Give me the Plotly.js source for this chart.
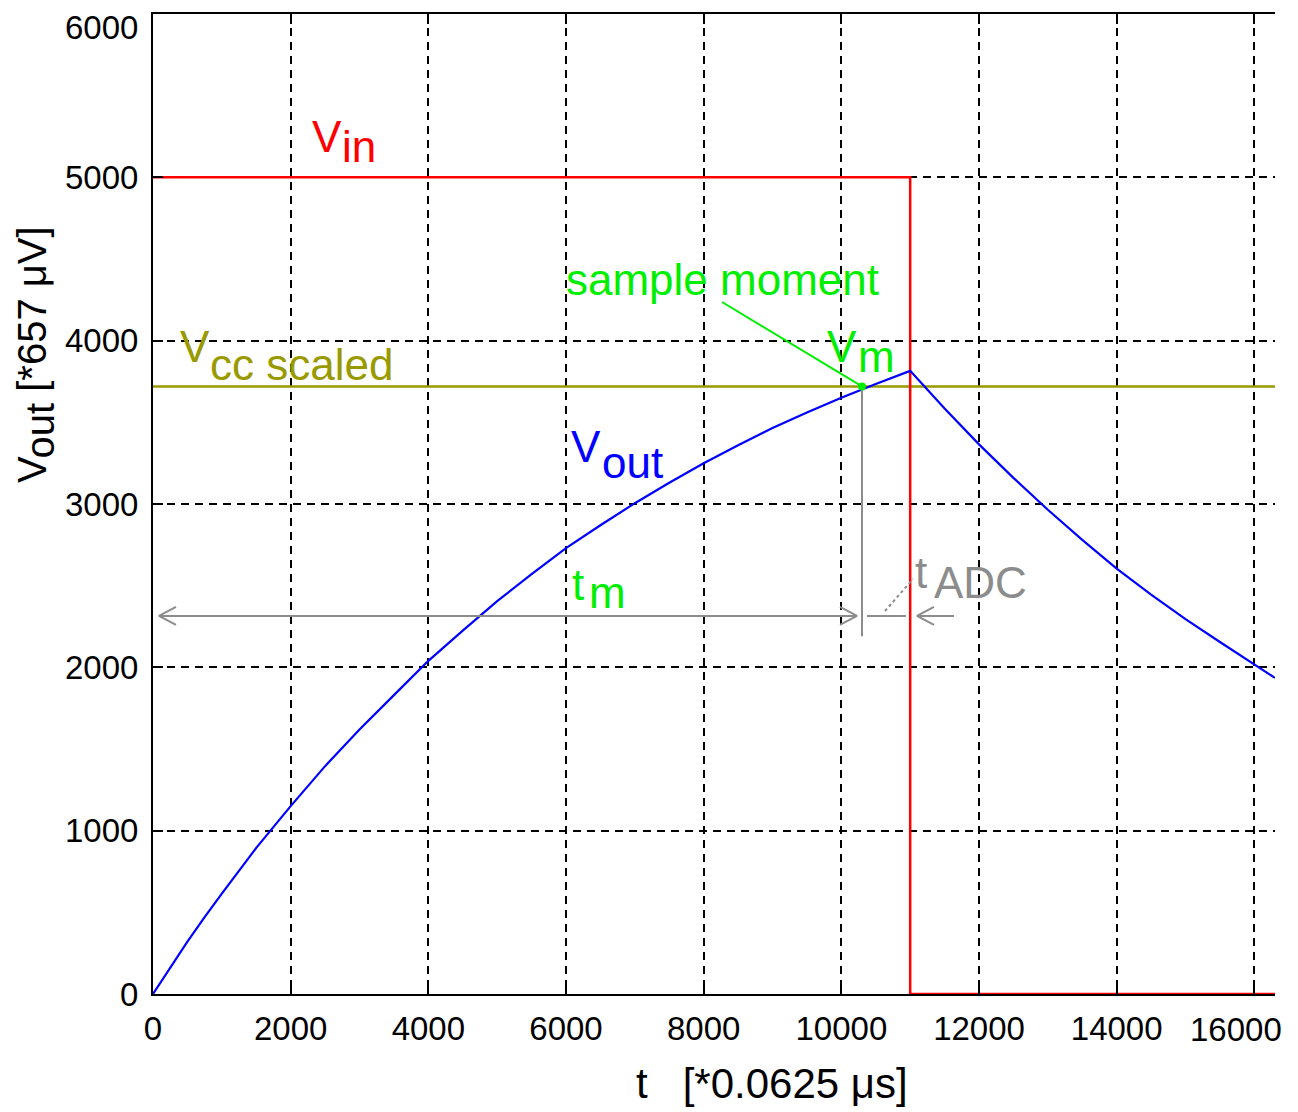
<!DOCTYPE html>
<html>
<head>
<meta charset="utf-8">
<script src="https://cdn.plot.ly/plotly-3.0.1.min.js"></script>
<style>html,body{margin:0;padding:0;background:#fff;}#chart{width:1298px;height:1112px;}</style>
</head>
<body>
<div id="chart"></div>
<script>
// ---- data ----
const tOut = [0,250,500,750,1000,1500,2000,2500,3000,3500,4000,4500,5000,5500,6000,6500,7000,7500,8000,8500,9000,9500,10000,10500,11000,11500,12000,12500,13000,13500,14000,14500,15000,15500,16000,16300];
const vOut = [0,162,320,470,615,895,1150,1395,1620,1830,2040,2225,2405,2570,2730,2870,3005,3130,3250,3360,3465,3560,3650,3735,3815,3585,3365,3160,2965,2780,2605,2445,2295,2155,2020,1935];
const tIn = [0,11000,11000,16300];
const vIn = [5000,5000,0,0];
const tVcc = [0,16300];
const vVcc = [3720,3720];
const tSample = [10300];
const vSample = [3720];
const vMeasure = 2315;      // level of the t_m / t_ADC dimension arrows
const vMeasureLow = 2190;   // lower end of the sample-moment marker line
const xTicks = [0,2000,4000,6000,8000,10000,12000,14000];
const xEdgeTick = [16000];
const yTicks = [0,1000,2000,3000,4000,5000];
const yEdgeTick = [6000];

// ---- geometry helpers (plot area in pixels) ----
const L = 153, R = 1275, T = 14, B = 994;
const XMAX = 16300, YMAX = 6000;
const px2t = px => (px - L) / (R - L) * XMAX;
const py2v = py => (B - py) / (B - T) * YMAX;
const dpx2t = d => d / (R - L) * XMAX;
const dpy2v = d => d / (B - T) * YMAX;

const FONT = 'Liberation Sans, Arial, sans-serif';
const RED = '#ff0000', BLUE = '#0000ff', GREEN = '#00ee00', OLIVE = '#999900', GRAY = '#8c8c8c';

// chevron arrowheads: tip position and direction (+1 = barbs to the right of tip)
function chevrons(list) {
  const xs = [], ys = [];
  const dt = dpx2t(17), dv = dpy2v(9);
  list.forEach(([tip, v, dir]) => {
    xs.push(tip + dir * dt, tip, tip + dir * dt, null);
    ys.push(v + dv, v, v - dv, null);
  });
  return {x: xs, y: ys};
}
const heads = chevrons([[px2t(159), vMeasure, 1], [px2t(857), vMeasure, -1], [px2t(917), vMeasure, 1]]);

const traces = [
  {x: tVcc, y: vVcc, mode: 'lines', line: {color: OLIVE, width: 2.5}, hoverinfo: 'skip'},
  {x: tIn, y: vIn, mode: 'lines', line: {color: RED, width: 2.5}, cliponaxis: false, hoverinfo: 'skip'},
  {x: tOut, y: vOut, mode: 'lines', line: {color: BLUE, width: 2.2}, hoverinfo: 'skip'},
  {x: [tSample[0], tSample[0]], y: [vSample[0], vMeasureLow], mode: 'lines', line: {color: GRAY, width: 2}, hoverinfo: 'skip'},
  {x: [px2t(159), px2t(857)], y: [vMeasure, vMeasure], mode: 'lines', line: {color: GRAY, width: 2}, hoverinfo: 'skip'},
  {x: [px2t(867), px2t(906)], y: [vMeasure, vMeasure], mode: 'lines', line: {color: GRAY, width: 2}, hoverinfo: 'skip'},
  {x: [px2t(917), px2t(954)], y: [vMeasure, vMeasure], mode: 'lines', line: {color: GRAY, width: 2}, hoverinfo: 'skip'},
  {x: heads.x, y: heads.y, mode: 'lines', line: {color: GRAY, width: 2}, connectgaps: false, hoverinfo: 'skip'},
  {x: [px2t(885), px2t(913)], y: [py2v(611), py2v(579)], mode: 'lines', line: {color: GRAY, width: 2, dash: 'dot'}, hoverinfo: 'skip'},
  {x: [px2t(722), tSample[0]], y: [py2v(302), vSample[0]], mode: 'lines', line: {color: GREEN, width: 2}, hoverinfo: 'skip'},
  {x: tSample, y: vSample, mode: 'markers', marker: {color: GREEN, size: 8}, cliponaxis: false, hoverinfo: 'skip'}
];

const S = 44;
function lbl(text, pxLeft, pyBase, color, size) {
  const s = size || S;
  return {x: px2t(pxLeft), y: py2v(pyBase - 0.3465 * s), xref: 'x', yref: 'y',
          text: text, showarrow: false, xanchor: 'left', yanchor: 'middle',
          font: {family: FONT, size: s, color: color}, borderpad: 0};
}
function paperLbl(text, px, py, size, xanchor, angle) {
  return {x: (px - L) / (R - L), y: (B - py) / (B - T), xref: 'paper', yref: 'paper', text: text,
          showarrow: false, xanchor: xanchor || 'center', yanchor: 'middle', textangle: angle || 0,
          font: {family: FONT, size: size, color: '#000'}, borderpad: 0};
}

const annotations = [
  lbl('V', 311, 152, RED), lbl('in', 341, 162, RED),
  lbl('V', 179, 362, OLIVE), lbl('cc scaled', 209, 380, OLIVE),
  lbl('sample moment', 565, 295, GREEN),
  lbl('V', 826, 362, GREEN), lbl('m', 857, 372, GREEN),
  lbl('V', 570, 462, BLUE), lbl('out', 601, 478, BLUE),
  lbl('t', 571, 600, GREEN), lbl('m', 588, 608, GREEN),
  lbl('t', 914, 588, GRAY), lbl('ADC', 933, 598, GRAY),
  // edge tick labels, nudged inside the figure as in the reference
  paperLbl(String(yEdgeTick[0]), 139, 27, 33, 'right'),
  paperLbl(String(xEdgeTick[0]), 1236, 1029, 33, 'center'),
  // axis titles
  paperLbl('t   [*0.0625 μs]', 772, 1098 - 0.3465 * 42, 42, 'center'),
  paperLbl('V<sub><span style="font-size:40px">out</span></sub> [*657 μV]', 36, 355, 40, 'center', -90)
];

const gridStyle = {showgrid: true, gridcolor: '#000', gridwidth: 2, griddash: '8px,6px',
                   ticks: 'inside', ticklen: 10, tickwidth: 2, tickcolor: '#000'};
const axCommon = Object.assign({}, gridStyle, {
  zeroline: false, showline: true, linecolor: '#000', linewidth: 2,
  tickfont: {family: FONT, size: 33, color: '#000'}
});

const layout = {
  width: 1298, height: 1112,
  margin: {l: L, r: 1298 - R, t: T, b: 1112 - B, pad: 0},
  paper_bgcolor: '#fff', plot_bgcolor: '#fff',
  showlegend: false,
  xaxis: Object.assign({}, axCommon, {range: [0, XMAX], tickmode: 'array', tickvals: xTicks, ticktext: xTicks.map(String),
    mirror: 'ticks', ticklabelstandoff: 4,
    minor: Object.assign({}, gridStyle, {tickmode: 'array', tickvals: xEdgeTick})}),
  yaxis: Object.assign({}, axCommon, {range: [0, YMAX], tickmode: 'array', tickvals: yTicks, ticktext: yTicks.map(String),
    ticklabelstandoff: 6,
    minor: Object.assign({}, gridStyle, {tickmode: 'array', tickvals: yEdgeTick})}),
  annotations: annotations
};

Plotly.newPlot('chart', traces, layout, {staticPlot: true});
</script>
</body>
</html>
